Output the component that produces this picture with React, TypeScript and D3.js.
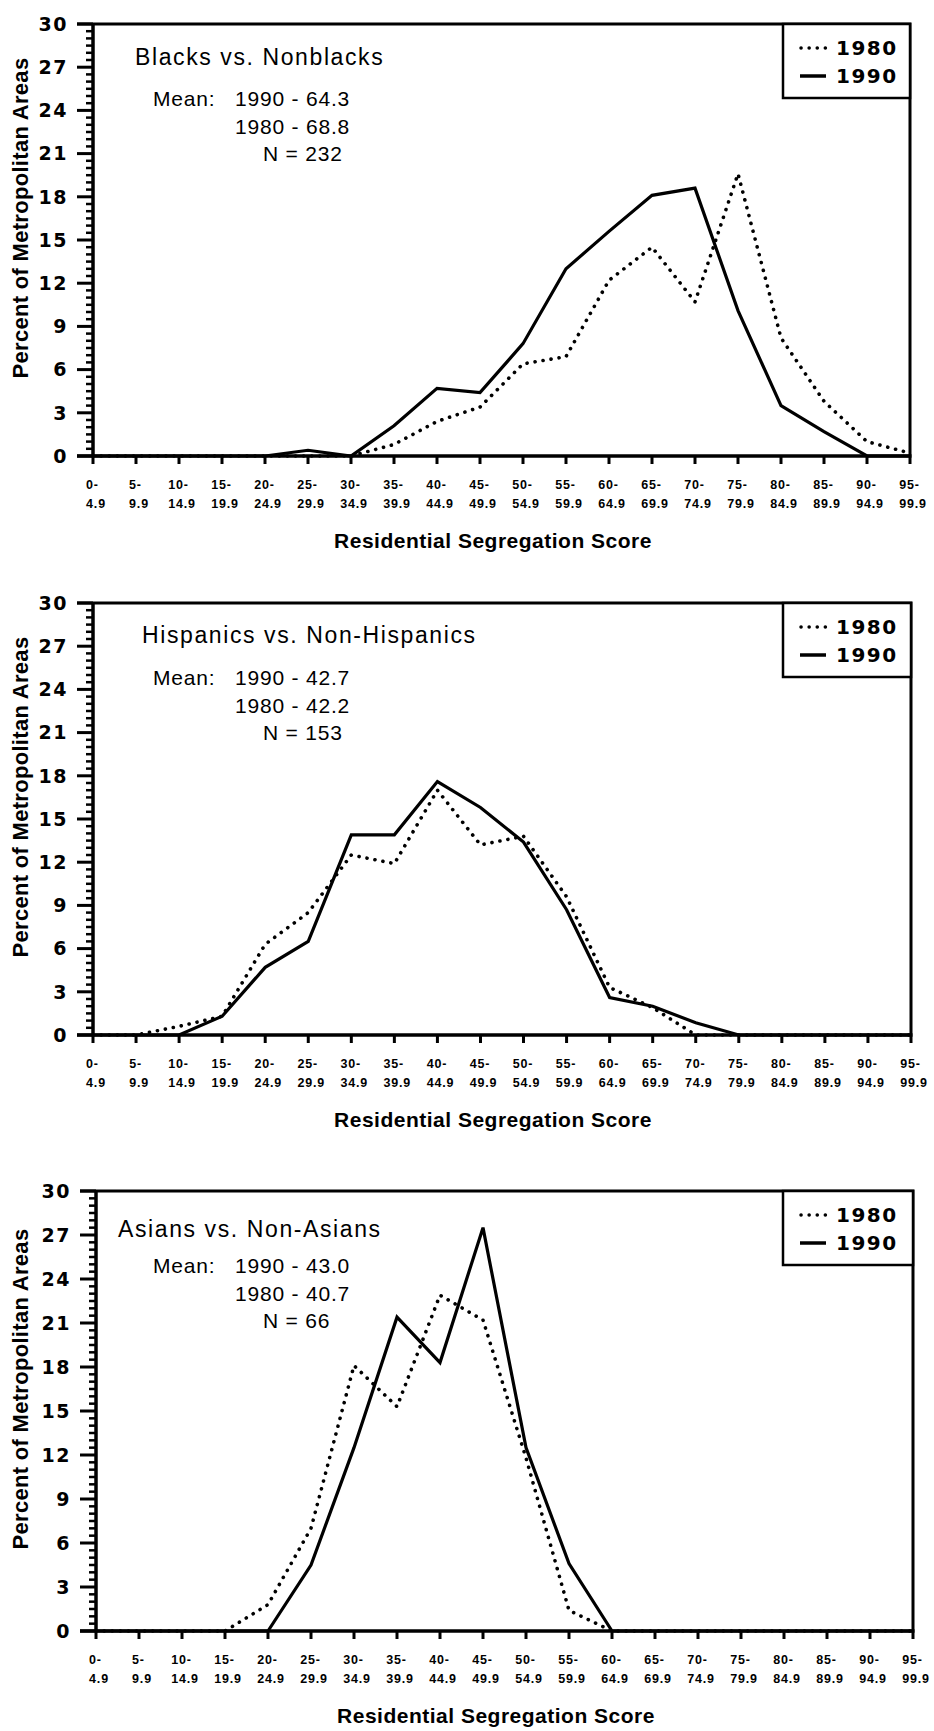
import * as d3 from "d3";

const binStart = ["0-", "5-", "10-", "15-", "20-", "25-", "30-", "35-", "40-", "45-", "50-", "55-", "60-", "65-", "70-", "75-", "80-", "85-", "90-", "95-"];
const binEnd = ["4.9", "9.9", "14.9", "19.9", "24.9", "29.9", "34.9", "39.9", "44.9", "49.9", "54.9", "59.9", "64.9", "69.9", "74.9", "79.9", "84.9", "89.9", "94.9", "99.9"];
const yTicks = [0, 3, 6, 9, 12, 15, 18, 21, 24, 27, 30];

const blacks1980 = [0, 0, 0, 0, 0, 0, 0, 0.8, 2.4, 3.4, 6.4, 6.9, 12.2, 14.5, 10.7, 19.6, 8.2, 3.8, 1.0, 0.2];
const blacks1990 = [0, 0, 0, 0, 0, 0.4, 0, 2.1, 4.7, 4.4, 7.8, 13.0, 15.6, 18.1, 18.6, 10.1, 3.5, 1.7, 0, 0];
const hisp1980 = [0, 0, 0.6, 1.3, 6.3, 8.5, 12.5, 11.9, 17.0, 13.2, 13.8, 9.6, 3.3, 1.9, 0, 0, 0, 0, 0, 0];
const hisp1990 = [0, 0, 0, 1.3, 4.7, 6.5, 13.9, 13.9, 17.6, 15.8, 13.4, 8.7, 2.6, 2.0, 0.85, 0, 0, 0, 0, 0];
const asian1980 = [0, 0, 0, 0, 1.8, 7.0, 18.1, 15.3, 22.9, 21.2, 11.8, 1.4, 0, 0, 0, 0, 0, 0, 0, 0];
const asian1990 = [0, 0, 0, 0, 0, 4.5, 12.5, 21.4, 18.3, 27.5, 12.5, 4.6, 0, 0, 0, 0, 0, 0, 0, 0];

const titles = ["Blacks vs. Nonblacks", "Hispanics vs. Non-Hispanics", "Asians vs. Non-Asians"];
const mean1990 = ["64.3", "42.7", "43.0"];
const mean1980 = ["68.8", "42.2", "40.7"];
const counts = ["232", "153", "66"];
const series1980 = [blacks1980, hisp1980, asian1980];
const series1990 = [blacks1990, hisp1990, asian1990];

// panel frames in page pixels
const frames = [
  { top: 24, bottom: 456, left: 93, right: 910, titleX: 135, titleY: 41 },
  { top: 603, bottom: 1035, left: 93, right: 911, titleX: 142, titleY: 40 },
  { top: 1191, bottom: 1631, left: 96, right: 913, titleX: 118, titleY: 46 },
];

const SANS = "'Liberation Sans', Arial, sans-serif";
const WIDE = "'DejaVu Sans', sans-serif";
const INK = "#000";

const labelWidth = (s: string, fs: number, ls: number) =>
  s.split("").reduce((a, c) => a + (c === "." ? 0.278 : c === "-" ? 0.333 : 0.556) * fs + ls, 0);

function Panel({ k }: { k: number }) {
  const f = frames[k];
  const x = d3.scalePoint<number>().domain(d3.range(binStart.length)).range([f.left, f.right]);
  const y = d3.scaleLinear().domain([0, 30]).range([f.bottom, f.top]);
  const line = d3.line<number>().x((_, i) => x(i)!).y((d) => y(d));
  const minor = d3.range(0.5, 30, 0.5).filter((v) => v % 3 !== 0);
  const midY = (f.top + f.bottom) / 2;

  return (
    <g>
      {/* frame */}
      <path d={`M${f.left - 16},${f.top}H${f.right}V${f.bottom}`} fill="none" stroke={INK} strokeWidth={3} />
      <line x1={f.left} x2={f.left} y1={f.top} y2={f.bottom} stroke={INK} strokeWidth={3.5} />
      <line x1={f.left - 16} x2={f.right + 1.5} y1={f.bottom} y2={f.bottom} stroke={INK} strokeWidth={3.5} />

      {/* y ticks */}
      {yTicks.map((t) => (
        <g key={"y" + t}>
          <line x1={f.left - 16} x2={f.left} y1={y(t)} y2={y(t)} stroke={INK} strokeWidth={3} />
          <text x={f.left - 25} y={y(t)} dy="0.36em" textAnchor="end" fontFamily={WIDE} fontWeight="bold" fontSize={19} letterSpacing={1.5}>
            {t}
          </text>
        </g>
      ))}
      {minor.map((t) => (
        <line key={"m" + t} x1={f.left - 7} x2={f.left} y1={y(t)} y2={y(t)} stroke={INK} strokeWidth={2.5} />
      ))}

      {/* x ticks */}
      {binStart.map((b, i) => {
        const cx = x(i)!;
        const w = labelWidth(binEnd[i], 12.5, 0.8);
        const lx = cx + 3 - w / 2;
        return (
          <g key={"x" + i}>
            <line x1={cx} x2={cx} y1={f.bottom} y2={f.bottom + 8} stroke={INK} strokeWidth={3} />
            <text x={lx} y={f.bottom + 33} fontFamily={SANS} fontWeight="bold" fontSize={12.5} letterSpacing={0.8}>{b}</text>
            <text x={lx} y={f.bottom + 52} fontFamily={SANS} fontWeight="bold" fontSize={12.5} letterSpacing={0.8}>{binEnd[i]}</text>
          </g>
        );
      })}

      {/* axis titles */}
      <text x={f.left + 400} y={f.bottom + 92} textAnchor="middle" fontFamily={SANS} fontWeight="bold" fontSize={21} letterSpacing={0.5}>
        Residential Segregation Score
      </text>
      <text transform={`translate(28,${midY - 22}) rotate(-90)`} textAnchor="middle" fontFamily={SANS} fontWeight="bold" fontSize={22} letterSpacing={0.3}>
        Percent of Metropolitan Areas
      </text>

      {/* series */}
      <path d={line(series1980[k])!} fill="none" stroke={INK} strokeWidth={3.6} strokeLinecap="round" strokeDasharray="0.1 8" />
      <path d={line(series1990[k])!} fill="none" stroke={INK} strokeWidth={3.2} strokeLinejoin="miter" />

      {/* annotation */}
      <text x={f.titleX} y={f.top + f.titleY} fontFamily={SANS} fontSize={23} letterSpacing={1.6}>{titles[k]}</text>
      <g fontFamily={SANS} fontSize={21} letterSpacing={0.8}>
        <text x={153} y={f.top + 82}>Mean:</text>
        <text x={235} y={f.top + 82}>1990 - {mean1990[k]}</text>
        <text x={235} y={f.top + 110}>1980 - {mean1980[k]}</text>
        <text x={263} y={f.top + 137}>N = {counts[k]}</text>
      </g>

      {/* legend */}
      <rect x={783} y={f.top} width={f.right - 783} height={74} fill="#fff" stroke={INK} strokeWidth={2.5} />
      <line x1={801} x2={826} y1={f.top + 24} y2={f.top + 24} stroke={INK} strokeWidth={3.5} strokeLinecap="round" strokeDasharray="0.1 8" />
      <line x1={800} x2={826} y1={f.top + 52} y2={f.top + 52} stroke={INK} strokeWidth={3.5} />
      <g fontFamily={WIDE} fontWeight="bold" fontSize={20} letterSpacing={1.5}>
        <text x={836} y={f.top + 31}>1980</text>
        <text x={836} y={f.top + 59}>1990</text>
      </g>
    </g>
  );
}

export default function App() {
  return (
    <svg width={934} height={1731} viewBox="0 0 934 1731" style={{ position: "absolute", left: 0, top: 0, background: "#fff" }}>
      <rect width={934} height={1731} fill="#fff" />
      {frames.map((_, k) => (
        <Panel key={k} k={k} />
      ))}
    </svg>
  );
}
